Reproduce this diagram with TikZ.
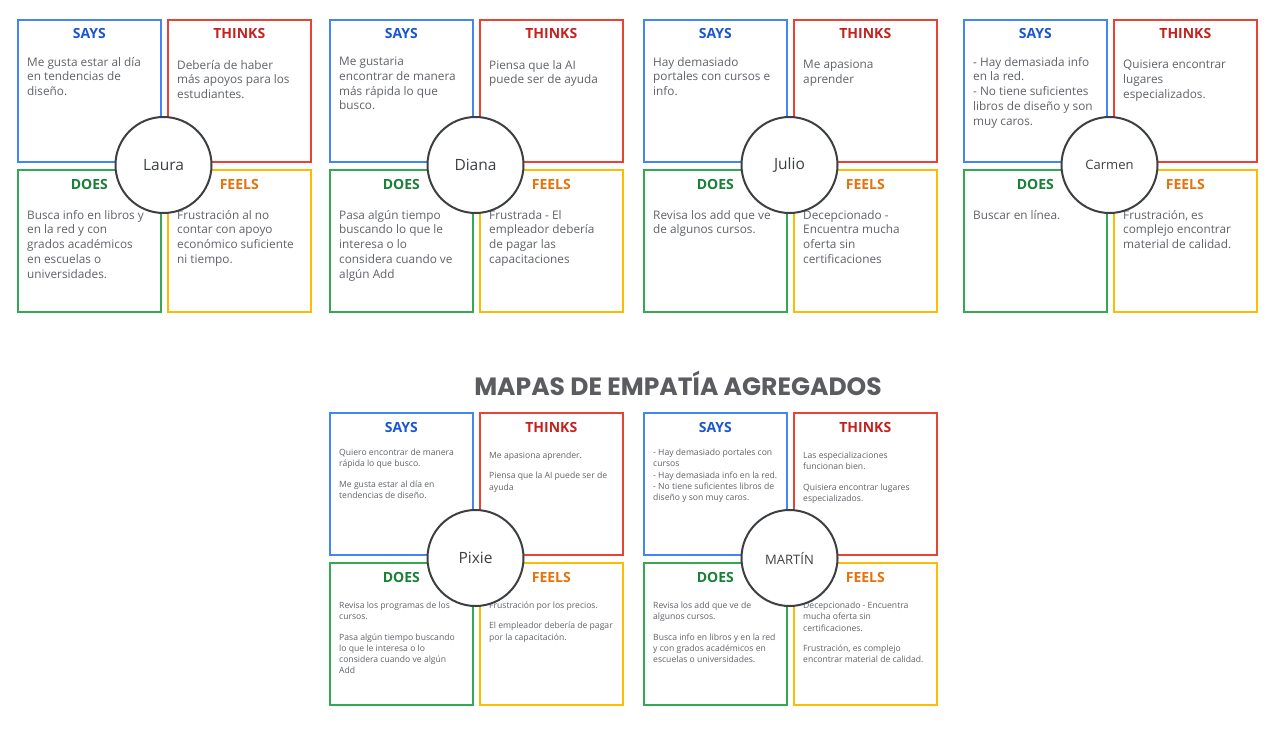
\documentclass[tikz,border=0pt]{standalone}
\usepackage{fontspec}
\setmainfont{Open Sans}
\newfontfamily\titlefont{Poppins}
\definecolor{bsays}{HTML}{4285F4}
\definecolor{bthinks}{HTML}{EA4335}
\definecolor{bdoes}{HTML}{34A853}
\definecolor{bfeels}{HTML}{FBBC04}
\definecolor{tsays}{HTML}{1A56D0}
\definecolor{tthinks}{HTML}{C5221F}
\definecolor{tdoes}{HTML}{188038}
\definecolor{tfeels}{HTML}{E8710A}
\definecolor{textgray}{HTML}{5F6368}
\definecolor{circ}{HTML}{3C4043}
\definecolor{titlegray}{HTML}{5A5C60}
\tikzset{
  mapbox/.style={draw, line width=1.6pt, minimum width=143pt, minimum height=142pt, inner sep=0pt, anchor=north west},
  hdr/.style={font=\bfseries\fontsize{14}{16}\selectfont},
  namecirc/.style={circle, draw=circ, line width=2pt, fill=white, minimum size=96pt, inner sep=0pt, text=circ, font=\fontsize{15.5}{18}\selectfont},
  bodytext/.style={anchor=north west, inner sep=0pt, align=left, text=textgray},
  bigmap/.style={bodyfont/.style={font=\fontsize{11.8}{14.7}\selectfont}, saysoff/.style={xshift=10pt,yshift=-38pt}, othoff/.style={xshift=10pt,yshift=-41pt}},
  smallmap/.style={bodyfont/.style={font=\fontsize{8.6}{11.2}\selectfont}, saysoff/.style={xshift=10pt,yshift=-37pt}, othoff/.style={xshift=10pt,yshift=-40pt}},
  titlestyle/.style={font=\titlefont\bfseries\fontsize{25}{28}\selectfont, text=titlegray, inner sep=0pt}
}
\newcommand{\empmap}[7]{%
  \begin{scope}[#2]
    \node[mapbox, draw=bsays] (#1-s) at (0,0) {};
    \node[mapbox, draw=bthinks] (#1-t) at (150,0) {};
    \node[mapbox, draw=bdoes] (#1-d) at (0,150) {};
    \node[mapbox, draw=bfeels] (#1-f) at (150,150) {};
    \node[hdr, text=tsays] (#1-sh) at ([yshift=-15pt]#1-s.north) {SAYS};
    \node[hdr, text=tthinks] (#1-th) at ([yshift=-15pt]#1-t.north) {THINKS};
    \node[hdr, text=tdoes] (#1-dh) at ([yshift=-15pt]#1-d.north) {DOES};
    \node[hdr, text=tfeels] (#1-fh) at ([yshift=-15pt]#1-f.north) {FEELS};
    \node[bodytext, bodyfont, saysoff] (#1-sb) at (#1-s.north west) {#4};
    \node[bodytext, bodyfont, othoff] (#1-tb) at (#1-t.north west) {#5};
    \node[bodytext, bodyfont, othoff] (#1-db) at (#1-d.north west) {#6};
    \node[bodytext, bodyfont, othoff] (#1-fb) at (#1-f.north west) {#7};
    \node[namecirc] (#1-c) at (146.5,146) {#3};
  \end{scope}}
\begin{document}
\begin{tikzpicture}[x=1pt, y=-1pt]
\useasboundingbox (0,0) rectangle (1276,730);
\fill[white] (0,0) rectangle (1276,730);

\empmap{laura}{shift={(17,19)}, bigmap}{Laura}
{Me gusta estar al día\\en tendencias de\\diseño.}
{Debería de haber\\más apoyos para los\\estudiantes.}
{Busca info en libros y\\en la red y con\\grados académicos\\en escuelas o\\universidades.}
{Frustración al no\\contar con apoyo\\económico suficiente\\ni tiempo.}

\empmap{diana}{shift={(329,19)}, bigmap}{Diana}
{Me gustaria\\encontrar de manera\\más rápida lo que\\busco.}
{Piensa que la AI\\puede ser de ayuda}
{Pasa algún tiempo\\buscando lo que le\\interesa o lo\\considera cuando ve\\algún Add}
{Frustrada - El\\empleador debería\\de pagar las\\capacitaciones}

\empmap{julio}{shift={(643,19)}, bigmap}{Julio}
{Hay demasiado\\portales con cursos e\\info.}
{Me apasiona\\aprender}
{Revisa los add que ve\\de algunos cursos.}
{Decepcionado -\\Encuentra mucha\\oferta sin\\certificaciones}

\empmap{carmen}{shift={(963,19)}, bigmap}{\fontsize{13}{15}\selectfont Carmen}
{- Hay demasiada info\\en la red.\\- No tiene suficientes\\libros de diseño y son\\muy caros.}
{Quisiera encontrar\\lugares\\especializados.}
{Buscar en línea.}
{Frustración, es\\complejo encontrar\\material de calidad.}

\node[titlestyle] (title) at (678,383) {MAPAS DE EMPATÍA AGREGADOS};

\empmap{pixie}{shift={(329,412)}, smallmap}{Pixie}
{Quiero encontrar de manera\\rápida lo que busco.\\[9pt]Me gusta estar al día en\\tendencias de diseño.}
{Me apasiona aprender.\\[9pt]Piensa que la AI puede ser de\\ayuda}
{Revisa los programas de los\\cursos.\\[9pt]Pasa algún tiempo buscando\\lo que le interesa o lo\\considera cuando ve algún\\Add}
{Frustración por los precios.\\[9pt]El empleador debería de pagar\\por la capacitación.}

\empmap{martin}{shift={(643,412)}, smallmap}{\fontsize{13}{15}\selectfont MARTÍN}
{- Hay demasiado portales con\\cursos\\- Hay demasiada info en la red.\\- No tiene suficientes libros de\\diseño y son muy caros.}
{Las especializaciones\\funcionan bien.\\[9pt]Quisiera encontrar lugares\\especializados.}
{Revisa los add que ve de\\algunos cursos.\\[9pt]Busca info en libros y en la red\\y con grados académicos en\\escuelas o universidades.}
{Decepcionado - Encuentra\\mucha oferta sin\\certificaciones.\\[9pt]Frustración, es complejo\\encontrar material de calidad.}
\end{tikzpicture}
\end{document}
